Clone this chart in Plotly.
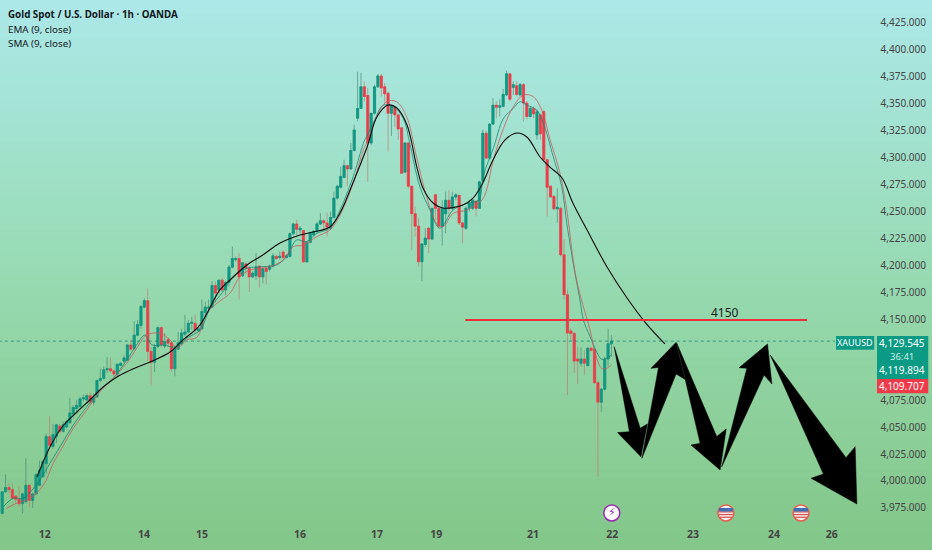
import plotly.graph_objects as go

# hourly candles, one row per bar: open, high, low, close
candles = [
    (3970, 3990, 3969, 3990), (3990, 4006, 3989, 3994), (3994, 3998, 3989, 3992), (3992, 3998, 3983, 3984),
    (3986, 3987, 3979, 3983), (3983, 3995, 3976, 3979), (3979, 3989, 3970, 3988), (3981, 4021, 3979, 3996),
    (3996, 3997, 3976, 3982), (3982, 3989, 3975, 3988), (3988, 4007, 3987, 4006), (3996, 4019, 3995, 4010),
    (4004, 4020, 4003, 4018), (4016, 4044, 4007, 4041), (4041, 4060, 4032, 4033), (4032, 4053, 4030, 4043),
    (4041, 4053, 4035, 4052), (4051, 4053, 4044, 4046), (4046, 4055, 4045, 4052), (4050, 4057, 4049, 4055),
    (4054, 4077, 4053, 4063), (4062, 4070, 4058, 4068), (4067, 4075, 4063, 4070), (4069, 4078, 4067, 4076),
    (4076, 4080, 4074, 4077), (4075, 4081, 4074, 4079), (4079, 4082, 4070, 4073), (4073, 4081, 4070, 4077),
    (4078, 4094, 4077, 4093), (4093, 4104, 4092, 4095), (4095, 4106, 4094, 4103), (4103, 4115, 4100, 4104),
    (4104, 4114, 4100, 4102), (4102, 4103, 4097, 4099), (4099, 4109, 4097, 4108), (4107, 4110, 4106, 4109),
    (4111, 4116, 4109, 4114), (4112, 4127, 4111, 4126), (4126, 4131, 4120, 4122), (4123, 4148, 4121, 4135),
    (4135, 4149, 4134, 4145), (4144, 4163, 4141, 4161.5), (4161, 4169, 4160, 4167), (4167, 4178, 4111, 4120),
    (4120, 4124, 4089, 4110), (4110, 4127, 4101, 4124), (4124.5, 4143, 4123, 4142), (4142, 4143, 4124, 4126),
    (4125, 4137, 4123, 4129), (4131, 4133, 4124, 4127.5), (4128, 4129, 4101, 4104), (4104, 4126, 4097, 4123),
    (4122, 4138, 4121, 4128), (4127, 4141, 4126, 4137), (4136, 4154, 4134, 4138), (4138, 4149, 4137, 4146),
    (4146, 4152, 4140, 4147), (4146, 4154, 4137, 4140), (4139, 4144, 4138, 4141), (4141, 4168, 4140, 4157),
    (4156, 4166, 4152, 4161), (4160, 4168, 4158, 4161), (4161, 4185, 4160, 4181), (4181, 4185, 4165, 4174),
    (4177, 4186, 4174, 4186), (4186, 4188, 4175, 4177), (4177, 4185, 4172, 4184), (4184, 4200, 4180, 4198),
    (4198, 4217, 4197, 4206), (4205, 4208, 4203, 4206), (4206, 4211, 4168, 4189), (4190, 4202.5, 4189, 4202),
    (4201, 4203, 4192, 4197), (4197, 4199, 4175, 4189), (4189, 4194, 4188, 4192.5), (4190, 4211, 4186, 4198),
    (4199, 4199.5, 4179, 4189), (4189, 4198, 4183, 4196.5), (4197, 4198, 4182, 4194), (4196, 4200.5, 4194, 4199),
    (4199, 4211, 4198, 4208.5), (4208, 4209.5, 4205, 4206), (4207, 4212.5, 4205, 4208), (4212, 4213.5, 4205, 4207),
    (4207, 4210, 4206, 4208.5), (4208, 4230, 4207, 4229), (4229, 4239, 4228, 4238), (4238, 4242, 4228, 4233),
    (4232.5, 4236, 4229.5, 4234), (4232, 4232.5, 4202, 4203), (4203, 4222, 4202, 4221), (4221, 4231, 4220, 4229.5),
    (4228, 4232.5, 4226.5, 4231), (4231, 4240, 4229.5, 4238), (4238, 4248, 4237, 4241), (4241, 4242.5, 4232.5, 4239),
    (4239, 4248.5, 4226.5, 4235), (4234, 4249.5, 4232.5, 4244), (4244, 4268, 4243, 4262), (4262, 4274, 4260.5, 4273),
    (4272, 4291, 4271, 4282), (4281, 4297.5, 4280.5, 4292), (4292, 4293, 4273, 4289), (4289, 4313, 4288, 4306),
    (4306, 4330, 4305, 4325), (4336, 4379, 4333, 4345), (4345, 4378, 4344.5, 4365), (4365, 4370, 4351.5, 4356),
    (4357, 4364, 4277, 4313), (4313, 4341, 4311, 4340.5), (4340.5, 4367, 4339, 4365), (4365, 4377, 4364, 4375),
    (4375, 4377, 4356, 4364), (4365, 4368.5, 4350, 4358.5), (4359, 4360.5, 4305, 4340.5), (4340.5, 4348, 4319.5, 4347),
    (4346, 4347, 4328, 4339), (4339, 4340.5, 4316, 4326), (4327, 4328, 4284.5, 4285), (4286, 4313.5, 4285, 4313),
    (4313, 4313.5, 4271, 4273), (4273, 4273.5, 4214, 4247.5), (4247.5, 4254, 4226.5, 4236), (4236, 4243.5, 4198.5, 4203),
    (4203, 4220, 4185, 4219.5), (4219, 4234, 4217, 4225), (4234, 4235, 4211, 4224), (4224, 4253, 4223, 4252.5),
    (4265, 4266, 4242, 4252.5), (4252.5, 4254, 4234, 4236), (4236, 4260, 4218, 4252.5), (4247.5, 4268, 4229.5, 4260),
    (4260, 4269.5, 4245, 4252.5), (4252.5, 4268, 4251, 4263), (4263, 4266.5, 4260, 4265), (4264.5, 4265, 4237, 4239),
    (4239, 4239.5, 4220, 4235), (4234, 4254, 4232.5, 4252.5), (4252.5, 4260, 4249.5, 4257), (4252.5, 4261, 4251, 4260),
    (4259, 4260, 4245, 4252.5), (4252.5, 4278, 4252, 4277), (4278, 4325, 4277, 4322), (4322, 4324.5, 4298, 4299),
    (4299, 4331, 4297.5, 4330.5), (4330.5, 4354.5, 4330, 4348), (4348, 4351.5, 4336, 4346), (4346, 4353.5, 4337.5, 4347.5),
    (4347, 4363, 4346, 4358), (4357.5, 4380, 4356.5, 4377), (4377, 4377.5, 4351.5, 4353.5), (4364.5, 4370, 4357.5, 4367),
    (4366, 4370, 4356, 4358), (4357.5, 4368.5, 4356, 4367), (4367, 4368.5, 4333, 4350), (4350, 4351.5, 4335, 4337.5),
    (4337.5, 4347, 4337, 4345), (4345, 4347, 4336, 4340), (4320.5, 4344, 4316, 4342), (4339, 4340.5, 4316, 4321.5),
    (4342, 4344, 4296, 4297.5), (4297.5, 4298, 4245, 4272), (4273, 4274, 4262, 4263), (4263.5, 4265, 4251, 4252),
    (4252, 4271, 4239, 4253.5), (4252.5, 4254, 4208, 4209.5), (4209.5, 4224, 4168, 4172.5), (4172.5, 4177, 4079.5, 4137),
    (4139, 4141, 4130, 4136.6), (4136.6, 4138, 4100, 4111), (4113, 4124, 4090, 4111), (4109, 4124, 4106, 4113),
    (4113, 4121, 4098, 4109), (4107, 4123.5, 4106, 4123), (4123, 4124, 4120, 4121), (4122, 4123, 4090, 4091),
    (4091, 4093, 4004, 4073), (4073, 4086, 4064, 4085), (4085, 4115, 4084, 4113), (4113, 4141, 4106, 4127),
    (4127, 4135, 4115, 4129.5),
]
bar_x = list(range(len(candles)))
opens = [c[0] for c in candles]
highs = [c[1] for c in candles]
lows = [c[2] for c in candles]
closes = [c[3] for c in candles]

ema_x = [0.3, 3.3, 6.2, 9.2, 11.2, 14.1, 17.1, 21, 25, 28.9, 32.8, 36.8, 39.7, 42.2, 44.2, 47.6, 49.6, 51.6, 54.5, 58.5,
         61.4, 65.4, 68.2, 72.2, 77.1, 81, 84, 87, 89.9, 92.9, 96.8, 99.8, 103.7, 106.7, 107.6, 109.6, 112.6, 115.5,
         118.5, 120.4, 123.4, 126.4, 129.3, 133.2, 137.2, 140.7, 142.2, 145.1, 148.1, 151, 153, 155, 157.9, 159.9,
         162.8, 165.3, 166.8, 168.7, 170.7, 171.7, 173.7, 175.6, 177.1, 179.1, 180]
ema_y = [3976, 3984, 3984, 3993, 4001, 4016.4, 4031.8, 4051.9, 4068.9, 4084.3, 4095.1, 4112, 4126, 4135.2, 4126, 4126,
         4124.4, 4124.4, 4132.1, 4139.8, 4159.9, 4176, 4189.2, 4196.9, 4198.5, 4200, 4207.7, 4223.2, 4221.6, 4229.3,
         4234, 4250.9, 4281.8, 4312.7, 4318.8, 4331.2, 4348.1, 4346.6, 4335.8, 4312.7, 4272.5, 4250.9, 4234, 4250.9,
         4257, 4260, 4283.3, 4308, 4335.8, 4345, 4351.2, 4348.1, 4343.5, 4331.2, 4300.3, 4272.5, 4238.6, 4201.6,
         4167.6, 4149, 4133.6, 4119.8, 4112.7, 4114.5, 4116.7]

sma_x = [1.3, 4.3, 8.2, 12.2, 15.1, 17.6, 21, 25, 28.9, 32.8, 36.8, 39.7, 42.7, 46.6, 49.6, 51.6, 54.5, 57.5, 60.4, 63.4,
         67.3, 70.2, 73.2, 79.1, 83, 86, 88.9, 92.9, 96.8, 99.8, 103.7, 106.7, 108.1, 110.6, 113.6, 116.5, 119.5, 122.4,
         125.4, 128.3, 130.3, 133.2, 137.2, 141.7, 143.1, 145.1, 148.1, 151, 154, 156.9, 159.4, 161.9, 164.8, 166.8,
         168.7, 169.7, 171.7, 173.7, 175.2, 177.1, 178.6, 180]
sma_y = [3974.7, 3979.4, 3984, 3996.3, 4016.4, 4030.3, 4048.8, 4065.8, 4082.7, 4095.1, 4109, 4122.9, 4135.2, 4136.7,
         4130.6, 4122.9, 4130.6, 4133, 4155.3, 4164.5, 4173.8, 4189.2, 4195.4, 4198.5, 4204.6, 4217, 4218.5, 4226.2,
         4232.4, 4246.3, 4275.6, 4306.5, 4315.7, 4337.3, 4351.2, 4351.2, 4337.3, 4300.3, 4263.3, 4238.6, 4235.5, 4247.8,
         4250.9, 4260, 4269.5, 4297.2, 4326.5, 4346.6, 4357.4, 4355.9, 4343.5, 4315.7, 4284.9, 4250.9, 4204.6, 4186,
         4161.4, 4139.8, 4118.2, 4104.3, 4104.3, 4107.4]

# long hand-drawn looking average in black
long_x = [10.3, 14.1, 17.7, 22.1, 25.9, 29.8, 33.9, 38.6, 43.7, 49.6, 53.4, 58.4, 64.3, 67.3, 72.3, 77, 82.1, 88, 91.8,
          96.8, 99.8, 103.6, 107.8, 110.7, 114, 116.6, 119.6, 122.5, 124.3, 127.3, 130.2, 136.1, 139.1, 141.7, 145,
          148.5, 152.1, 155, 158.9, 161.8, 165.4, 168.6, 172.8, 178.7, 184.6, 189.9, 195.8]
long_y = [4003.7, 4031.5, 4050, 4063.9, 4075, 4087, 4096.3, 4103.7, 4110.2, 4119.4, 4130.6, 4144.4, 4176.9, 4186.1, 4200,
          4209.3, 4220.4, 4227.8, 4230.6, 4235.2, 4248.1, 4275.9, 4309.3, 4337, 4348.1, 4345.4, 4329.6, 4290.7, 4271.3,
          4257.4, 4252.8, 4255.6, 4262, 4274.1, 4297.2, 4315.7, 4322.2, 4318.5, 4300, 4290.7, 4280.6, 4257.4, 4232.4,
          4198.1, 4169.4, 4147.2, 4126.9]

level_x = [136.8, 237.8]
level_y = [4149, 4149]
last_x = [-1, 246]
last_y = [4129.5, 4129.5]

# zigzag arrows drawn on the chart
arrows = [
    ([180.8, 188.5, 190.6, 188.7, 181.8, 185.3], [4124.4, 4048.8, 4052.8, 4022.5, 4044.8, 4045.7]),
    ([189, 193.9, 191.7, 199.1, 201.7, 199.1], [4021, 4105.2, 4104.3, 4128.4, 4094.1, 4099.1]),
    ([199.3, 211.1, 213.9, 212.1, 203.5, 206.2], [4127.5, 4041.1, 4048.2, 4010.2, 4033.3, 4034.9]),
    ([212.6, 220, 217.7, 226.1, 227.4, 225.1], [4013.3, 4104.3, 4104.9, 4126.9, 4089.8, 4098.1]),
    ([226.9, 249.3, 252, 252.5, 239, 242.6], [4116.7, 4021.6, 4031.8, 3978.7, 4002.5, 4006.5]),
]

y_ticks = [4425, 4400, 4375, 4350, 4325, 4300, 4275, 4250, 4225, 4200, 4175, 4150, 4075, 4050, 4025, 4000, 3975]
y_labels = ["4,425.000", "4,400.000", "4,375.000", "4,350.000", "4,325.000", "4,300.000", "4,275.000", "4,250.000",
            "4,225.000", "4,200.000", "4,175.000", "4,150.000", "4,075.000", "4,050.000", "4,025.000", "4,000.000",
            "3,975.000"]
x_ticks = [12.6, 41.9, 59, 88, 110.7, 128.2, 156.8, 180.2, 204.1, 228, 245.1]
x_labels = ["12", "14", "15", "16", "17", "19", "21", "22", "23", "24", "26"]

event_bolt_x = [180.1]
event_flag_x = [213.8, 236]
event_y = 3970.4

bg_y = [3920, 4050, 4190, 4320, 4460]
bg_z = [0, 0.25, 0.5, 0.75, 1]
bg_scale = [[0, "#82c587"], [0.25, "#8ccf99"], [0.5, "#97dab2"], [0.75, "#a2e2cf"], [1, "#ade9eb"]]

text_color = "#131722"
green = "#0b9a84"
red = "#ee3a49"

fig = go.Figure()

# gradient backdrop
fig.add_trace(go.Heatmap(x=[-5, 280], y=bg_y, z=[[v, v] for v in bg_z], colorscale=bg_scale, zmin=0, zmax=1,
                         zsmooth="best", showscale=False, hoverinfo="skip"))

# Plot wicks first, thin and faded, then solid bodies on top
fig.add_trace(go.Candlestick(x=bar_x, open=opens, high=highs, low=lows, close=closes, whiskerwidth=0,
                             increasing=dict(line=dict(color="rgba(60,125,110,0.75)", width=0.8), fillcolor="rgba(0,0,0,0)"),
                             decreasing=dict(line=dict(color="rgba(190,120,105,0.8)", width=0.8), fillcolor="rgba(0,0,0,0)")))
fig.add_trace(go.Candlestick(x=bar_x, open=opens, close=closes,
                             high=[max(o, c) for o, c in zip(opens, closes)],
                             low=[min(o, c) for o, c in zip(opens, closes)],
                             increasing=dict(line=dict(color=green, width=0.5), fillcolor=green),
                             decreasing=dict(line=dict(color=red, width=0.5), fillcolor=red)))

fig.add_trace(go.Scatter(x=last_x, y=last_y, mode="lines", line=dict(color="rgba(10,130,110,0.7)", width=1, dash="dot")))
fig.add_trace(go.Scatter(x=ema_x, y=ema_y, mode="lines", line=dict(color="rgba(20,130,115,0.75)", width=1, shape="spline")))
fig.add_trace(go.Scatter(x=sma_x, y=sma_y, mode="lines", line=dict(color="rgba(205,85,90,0.75)", width=1, shape="spline")))
fig.add_trace(go.Scatter(x=long_x, y=long_y, mode="lines", line=dict(color="#0c0c0c", width=1.1, shape="spline")))
fig.add_trace(go.Scatter(x=level_x, y=level_y, mode="lines", line=dict(color="#ea2f3e", width=2)))

for ax, ay in arrows:
    fig.add_trace(go.Scatter(x=ax + ax[:1], y=ay + ay[:1], mode="lines", fill="toself", fillcolor="#000000",
                             line=dict(color="#000000", width=0.5)))

# event badges along the bottom
fig.add_trace(go.Scatter(x=event_bolt_x, y=[event_y], mode="markers+text", text=["⚡"], textposition="middle center",
                         textfont=dict(family="DejaVu Sans", size=11, color="#9c27b0"),
                         marker=dict(size=16, color="#ffffff", line=dict(color="#9c27b0", width=1.5))))
fig.add_trace(go.Scatter(x=event_flag_x, y=[event_y] * 2, mode="markers",
                         marker=dict(size=16, color="#f4f4f4", line=dict(color="#e8604f", width=1.5))))
for offset, size in [(-4, 9), (-1.5, 11), (1, 11)]:
    fig.add_trace(go.Scatter(x=event_flag_x, y=[event_y + offset] * 2, mode="markers",
                             marker=dict(symbol="line-ew", size=size, line=dict(color="#d9534f", width=1.3))))
fig.add_trace(go.Scatter(x=event_flag_x, y=[event_y + 3] * 2, mode="markers",
                         marker=dict(symbol="line-ew", size=10, line=dict(color="#3f6fb5", width=3.5))))

fig.add_annotation(x=213.5, y=4155.6, text="4150", showarrow=False, font=dict(size=12, color="#1c1c1c"))

# top left legend
for py, label, weight in [(0.9745, "Gold Spot / U.S. Dollar · 1h · OANDA", "bold"),
                          (0.947, "EMA (9, close)", "normal"), (0.920, "SMA (9, close)", "normal")]:
    fig.add_annotation(xref="paper", yref="paper", x=0.0065, y=py, text=label, showarrow=False, xanchor="left",
                       yanchor="middle", font=dict(size=9.8, color=text_color, weight=weight))

# price tag backgrounds, in page fractions
for x0, x1, y0, y1, bg in [(0.897, 0.938, 0.364, 0.389, green), (0.941, 0.996, 0.311, 0.389, green),
                           (0.941, 0.996, 0.285, 0.311, red)]:
    fig.add_shape(type="rect", xref="paper", yref="paper", x0=x0, x1=x1, y0=y0, y1=y1, fillcolor=bg, line_width=0)

for px, py, label, color, size in [
    (0.9174, 0.3764, "XAUUSD", "#ffffff", 9),
    (0.9683, 0.3764, "4,129.545", "#ffffff", 10),
    (0.9683, 0.3527, "36:41", "#cdeee5", 9.5),
    (0.9683, 0.3273, "4,119.894", "#ffffff", 10),
    (0.9683, 0.2982, "4,109.707", "#ffffff", 10),
]:
    fig.add_annotation(xref="paper", yref="paper", x=px, y=py, text=label, showarrow=False, borderpad=0,
                       xanchor="center", yanchor="middle", font=dict(size=size, color=color))

fig.update_layout(width=932, height=550, margin=dict(l=0, r=0, t=0, b=0), showlegend=False,
                  font=dict(family="Noto Sans", size=10, color="#1e2a28"), boxgap=0.1,
                  paper_bgcolor="#97dab2", plot_bgcolor="#97dab2")
fig.update_xaxes(range=[-0.65, 274.7], tickvals=x_ticks, ticktext=x_labels, rangeslider_visible=False,
                 showgrid=False, zeroline=False, showline=False, ticklabelposition="inside", ticks="",
                 ticklabelstandoff=7, tickfont=dict(size=10.5, weight="bold"))
fig.update_yaxes(range=[3936.1, 4445.4], tickvals=y_ticks, ticktext=y_labels, side="right", showgrid=False,
                 zeroline=False, showline=False, ticklabelposition="inside", ticks="", ticklabelstandoff=3)

# the page's default body margin would push the chart 8px in
fig.write_html("out.html", config={"displayModeBar": False}, post_script="document.body.style.margin = '0';")
